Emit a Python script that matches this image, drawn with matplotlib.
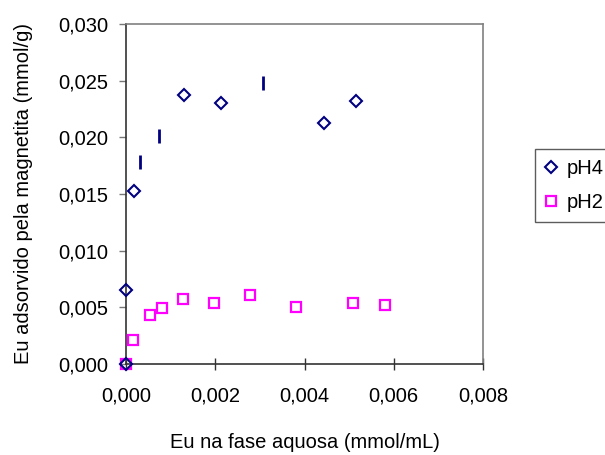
import matplotlib
matplotlib.use("Agg")
import matplotlib.pyplot as plt
from matplotlib.ticker import FuncFormatter

plt.rcParams['font.family'] = ['Liberation Sans', 'DejaVu Sans']

# pH4 series (diamonds)
ph4_x = [0.0, 0.0, 0.00018, 0.00131, 0.00213, 0.00444, 0.00515]
ph4_y = [0.0, 0.0065, 0.0153, 0.0237, 0.0230, 0.0213, 0.0232]
# pH4 points drawn as vertical bars in the original
ph4_bar_x = [0.00031, 0.00075, 0.00306]
ph4_bar_y = [0.0178, 0.0201, 0.0248]

# pH2 series (squares)
ph2_x = [0.0, 0.00015, 0.00054, 0.00081, 0.00128, 0.00198, 0.00277, 0.00381, 0.00508, 0.00581]
ph2_y = [0.0, 0.0021, 0.0043, 0.0049, 0.0057, 0.0054, 0.0061, 0.0050, 0.0054, 0.0052]

x_ticks = [0.0, 0.002, 0.004, 0.006, 0.008]
y_ticks = [0.0, 0.005, 0.010, 0.015, 0.020, 0.025, 0.030]

navy = '#000080'
magenta = '#FF00FF'
FS = 14.5


def comma_fmt(v, pos):
    return f"{v:.3f}".replace('.', ',')


fig = plt.figure(figsize=(6.05, 4.55), dpi=100)
ax = fig.add_axes([126 / 605, 1 - 364 / 455, 357 / 605, 340 / 455])

ax.plot(ph2_x, ph2_y, linestyle='none', marker='s', markersize=7.5,
        markerfacecolor='none', markeredgecolor=magenta, markeredgewidth=1.6,
        label='pH2', zorder=3, clip_on=False)
ax.plot(ph4_x, ph4_y, linestyle='none', marker='D', markersize=6.2,
        markerfacecolor='none', markeredgecolor=navy, markeredgewidth=1.5,
        label='pH4', zorder=4, clip_on=False)
ax.plot(ph4_bar_x, ph4_bar_y, linestyle='none', marker='|', markersize=10,
        markeredgecolor=navy, markeredgewidth=2, zorder=4)

ax.set_xlim(0, 0.008)
ax.set_ylim(0, 0.030)
ax.set_xticks(x_ticks)
ax.set_yticks(y_ticks)
ax.xaxis.set_major_formatter(FuncFormatter(comma_fmt))
ax.yaxis.set_major_formatter(FuncFormatter(comma_fmt))

ax.tick_params(axis='x', direction='inout', length=9, width=1, color='#333333',
               labelsize=FS, pad=12)
ax.tick_params(axis='y', direction='out', length=5, width=1, color='#777777',
               labelsize=FS, pad=8)

for side in ['left', 'bottom']:
    ax.spines[side].set_color('#333333')
    ax.spines[side].set_linewidth(1.2)
for side in ['top', 'right']:
    ax.spines[side].set_color('#808080')
    ax.spines[side].set_linewidth(1.2)

ax.set_xlabel('Eu na fase aquosa (mmol/mL)', fontsize=FS)
ax.set_ylabel('Eu adsorvido pela magnetita (mmol/g)', fontsize=FS)
ax.xaxis.set_label_coords(0.5, -0.232)
ax.xaxis.label.set_va('center')
ax.yaxis.set_label_coords(-0.286, 0.5)
ax.yaxis.label.set_va('center')

handles, labels = ax.get_legend_handles_labels()
leg = fig.legend(handles[::-1], labels[::-1], loc='upper left',
                 bbox_to_anchor=(535 / 605, 1 - 149 / 455),
                 fontsize=FS, frameon=True, fancybox=False, borderpad=0.5,
                 handlelength=0.6, handletextpad=0.45, labelspacing=0.75,
                 borderaxespad=0)
leg.get_frame().set_edgecolor('#333333')
leg.get_frame().set_linewidth(1)

fig.savefig('out.png', dpi=100)
